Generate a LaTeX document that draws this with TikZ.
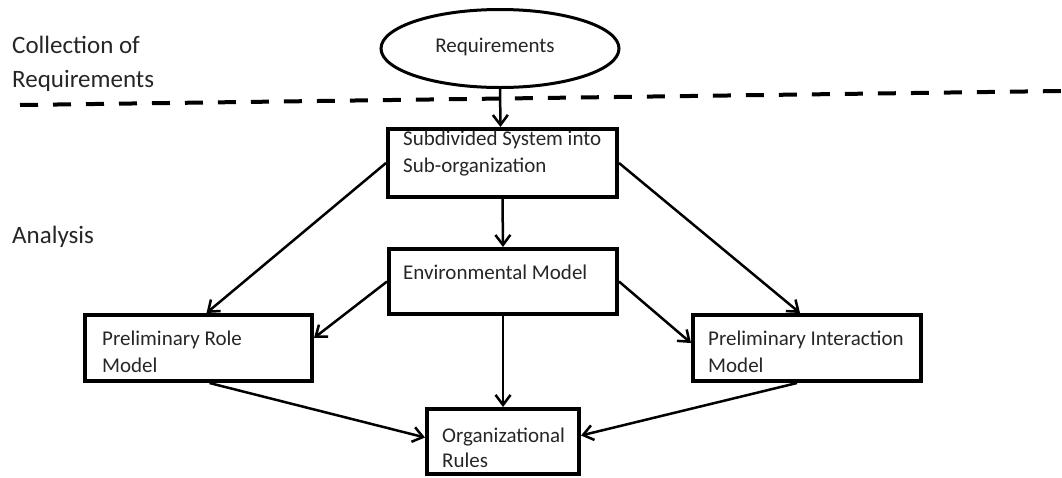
\documentclass[tikz,border=0pt]{standalone}
\usepackage{fontspec}
\setmainfont{Carlito}
\usetikzlibrary{shapes.geometric,arrows.meta,calc}
\begin{document}
\begin{tikzpicture}[x=1pt,y=-1pt,
  box/.style={draw=black,line width=4pt,rectangle,inner sep=0pt},
  oval/.style={draw=black,line width=3pt,ellipse,inner sep=0pt},
  txt/.style={anchor=base west,inner sep=0pt,text=black!85,font=\fontsize{21}{27}\selectfont},
  lbl/.style={anchor=base west,inner sep=0pt,text=black!85,font=\fontsize{25}{35}\selectfont},
  conn/.style={line width=2.5pt,-{Straight Barb[length=10pt,width=15pt,line width=2.5pt]}},
  sep/.style={line width=4pt,dash pattern=on 18pt off 15pt}]
\useasboundingbox (0,0) rectangle (1062,477);
% separator
\coordinate (dl) at (20,105);
\coordinate (dr) at (1062,91);
\draw[sep] (dl) -- (dr);
% phase labels
\node[lbl] (c1) at (12,53) {Collection of};
\node[lbl] (c2) at (12,87) {Requirements};
\node[lbl] (an) at (12,243) {Analysis};
% shapes
\node[oval,minimum width=238pt,minimum height=78pt] (req) at (500,48.5) {};
\node[anchor=base,inner sep=0pt,text=black!85,font=\fontsize{21}{27}\selectfont] (reqt) at (495,52) {Requirements};
\node[box,minimum width=229pt,minimum height=68pt] (b1) at (502.5,163) {};
\node[txt] (b1a) at (403,145) {Subdivided System into};
\node[txt] (b1b) at (403,172) {Sub-organization};
\node[box,minimum width=228pt,minimum height=65pt] (b2) at (503,281.5) {};
\node[txt] (b2a) at (403,279) {Environmental Model};
\node[box,minimum width=227pt,minimum height=66pt] (b3) at (198.5,348) {};
\node[txt] (b3a) at (102,345) {Preliminary Role};
\node[txt] (b3b) at (102,372) {Model};
\node[box,minimum width=228pt,minimum height=66pt] (b4) at (807,348) {};
\node[txt] (b4a) at (708,345) {Preliminary Interaction};
\node[txt] (b4b) at (708,372) {Model};
\node[box,minimum width=152pt,minimum height=65pt] (b5) at (503,441.5) {};
\node[txt] (b5a) at (442,442) {Organizational};
\node[txt] (b5b) at (442,467) {Rules};
% connectors
\draw[conn] (req.south) -- ($(b1.north)+(-2,0)$);
\draw[conn] (b1.south) -- (b2.north);
\draw[conn] (b1.west) -- ($(b3.north)+(8,0)$);
\draw[conn] (b1.east) -- ($(b4.north)+(-7,0)$);
\draw[conn] (b2.west) -- ($(b3.east)+(0,-10)$);
\draw[conn] (b2.east) -- ($(b4.west)+(0,-5)$);
\draw[conn] (b2.south) -- (b5.north);
\draw[conn] ($(b3.south)+(11,0)$) -- ($(b5.west)+(0,-4)$);
\draw[conn] ($(b4.south)+(-10,0)$) -- ($(b5.east)+(0,-6)$);
\end{tikzpicture}
\end{document}
